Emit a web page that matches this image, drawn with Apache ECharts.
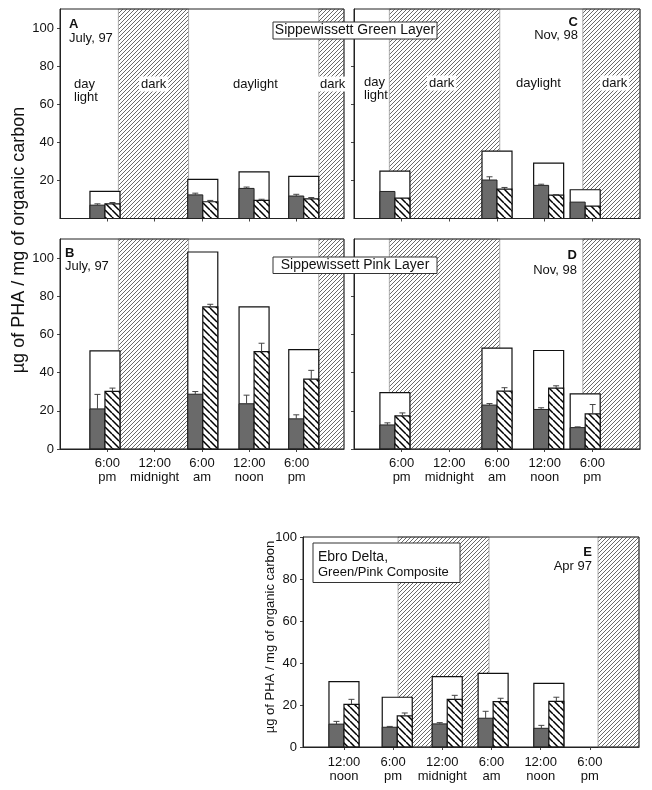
<!DOCTYPE html>
<html><head><meta charset="utf-8">
<script src="https://cdn.jsdelivr.net/npm/echarts@6.0.0/dist/echarts.min.js"></script>
<style>html,body{margin:0;padding:0;background:#fff}#c{width:652px;height:790px}</style>
</head><body><div id="c"></div>
<script>
// ---------------- data (hours after 12:00 noon of day 1) ----------------
const timesAB = [5.7, 18.1, 24.6, 30.9];
const totalA = [14.2, 20.5, 24.5, 22.1];
const grayA = [7.0, 12.4, 15.8, 11.8];
const grayErrA = [7.7, 13.3, 16.5, 12.7];
const hatchA = [7.7, 8.8, 9.5, 10.3];
const hatchErrA = [8.4, 9.5, 10.1, 11.0];

const totalB = [51.4, 103.2, 74.4, 52.1];
const grayB = [21.0, 28.7, 23.7, 15.8];
const grayErrB = [28.6, 30.1, 28.2, 17.9];
const hatchB = [30.2, 74.4, 51.0, 36.6];
const hatchErrB = [31.9, 75.8, 55.4, 41.2];

const timesCD = [5.15, 18.0, 24.5, 29.1];
const totalC = [24.9, 35.4, 29.1, 15.1];
const grayC = [14.2, 20.2, 17.4, 8.6];
const grayErrC = [14.2, 21.9, 18.0, 8.6];
const hatchC = [10.7, 15.4, 12.3, 6.5];
const hatchErrC = [10.7, 16.3, 12.6, 6.5];

const totalD = [29.5, 52.8, 51.6, 28.9];
const grayD = [12.6, 23.0, 20.7, 11.2];
const grayErrD = [13.7, 23.8, 21.6, 11.6];
const hatchD = [17.4, 30.3, 31.9, 18.4];
const hatchErrD = [18.9, 32.1, 33.1, 23.3];

const timesE = [0, 6.5, 12.6, 18.2, 25.0];
const totalE = [31.1, 23.7, 33.5, 35.1, 30.3];
const grayE = [10.9, 9.4, 11.0, 13.7, 8.9];
const grayErrE = [12.2, 9.8, 11.6, 17.0, 10.3];
const hatchE = [20.3, 14.8, 22.7, 21.6, 21.7];
const hatchErrE = [22.7, 16.2, 24.6, 23.2, 23.7];

const bandsAB = [[7.4, 16.3], [32.8, 36]];
const bandsCD = [[4.45, 18.35], [28.8, 36]];
const bandsE = [[6.6, 17.7], [31.0, 36]];

const tickHours = [6, 12, 18, 24, 30];
const tickLabels = ['6:00\npm', '12:00\nmidnight', '6:00\nam', '12:00\nnoon', '6:00\npm'];
const tickHoursE = [0, 6, 12, 18, 24, 30];
const tickLabelsE = ['12:00\nnoon', '6:00\npm', '12:00\nmidnight', '6:00\nam', '12:00\nnoon', '6:00\npm'];
const yTicks = [20, 40, 60, 80, 100];
const yTicksB = [0, 20, 40, 60, 80, 100];
const yTitle = 'µg of PHA / mg of organic carbon';

// ---------------- styling helpers ----------------
const FONT = "'Liberation Sans', Arial, sans-serif";
function makePattern(size, color, lw, dir) {
  const c = document.createElement('canvas'); c.width = size; c.height = size;
  const g = c.getContext('2d'); g.fillStyle = '#fff'; g.fillRect(0, 0, size, size);
  g.strokeStyle = color; g.lineWidth = lw; g.beginPath();
  for (let k = -1; k <= 1; k++) {
    if (dir === '/') { g.moveTo(k * size, size); g.lineTo(k * size + size, 0); }
    else { g.moveTo(k * size, 0); g.lineTo(k * size + size, size); }
  }
  g.stroke(); return c;
}
const bandPat = makePattern(4, '#6a6a6a', 1, '/');
const barPat = makePattern(7, '#000', 1.5, '\\');
const H = 15;

function rows(t, tot, g, ge, h, he) { return t.map((x, i) => [x, tot[i], g[i], ge[i], h[i], he[i]]); }

function bandSeries(idx, bands) {
  return {
    type: 'custom', xAxisIndex: idx, yAxisIndex: idx, z: 1,
    data: bands,
    renderItem: (params, api) => {
      const cs = params.coordSys;
      const p0 = api.coord([api.value(0), 0]);
      const p1 = api.coord([api.value(1), 0]);
      return { type: 'rect', shape: { x: p0[0], y: cs.y, width: p1[0] - p0[0], height: cs.height },
        style: { fill: { image: bandPat, repeat: 'repeat' }, stroke: '#9a9a9a', lineWidth: 0.8 } };
    }
  };
}
function barSeries(idx, data) {
  return {
    type: 'custom', xAxisIndex: idx, yAxisIndex: idx, z: 3,
    data: data,
    renderItem: (params, api) => {
      const x = api.value(0);
      const base = api.coord([x, 0]);
      const cx = base[0], y0 = base[1];
      const yy = v => api.coord([x, v])[1];
      const yt = yy(api.value(1)), yg = yy(api.value(2)), yge = yy(api.value(3));
      const yh = yy(api.value(4)), yhe = yy(api.value(5));
      const ch = [
        { type: 'rect', shape: { x: cx - H, y: yt, width: 2 * H, height: y0 - yt }, style: { fill: '#fff', stroke: '#111', lineWidth: 1.2 } },
        { type: 'rect', shape: { x: cx - H, y: yg, width: H, height: y0 - yg }, style: { fill: '#6a6a6a', stroke: '#222', lineWidth: 1 } },
        { type: 'rect', shape: { x: cx, y: yh, width: H, height: y0 - yh }, style: { fill: { image: barPat, repeat: 'repeat' }, stroke: '#111', lineWidth: 1.2 } }
      ];
      const err = (ex, ya, yb) => {
        if (yb < ya - 0.5) {
          ch.push({ type: 'line', shape: { x1: ex, y1: ya, x2: ex, y2: yb }, style: { stroke: '#444', lineWidth: 1 } });
          ch.push({ type: 'line', shape: { x1: ex - 3, y1: yb, x2: ex + 3, y2: yb }, style: { stroke: '#444', lineWidth: 1 } });
        }
      };
      err(cx - H / 2, yg, yge);
      err(cx + H / 2, yh, yhe);
      return { type: 'group', children: ch };
    }
  };
}

const grids = [
  { left: 60, top: 9, width: 284, height: 209.5 },
  { left: 60, top: 239, width: 284, height: 210 },
  { left: 354, top: 9, width: 286, height: 209.5 },
  { left: 354, top: 239, width: 286, height: 210 },
  { left: 303, top: 537, width: 336, height: 210 }
].map(g => Object.assign(g, { show: true, borderColor: '#222', borderWidth: 1, backgroundColor: 'transparent', z: 10 }));

function xAx(idx, min, max, ticks, labels, showLabels, margin) {
  return {
    type: 'value', gridIndex: idx, min: min, max: max,
    axisLine: { show: true, onZero: false, lineStyle: { color: '#222', width: 1 } },
    axisTick: { show: true, inside: false, length: 3, customValues: ticks, lineStyle: { color: '#444' } },
    axisLabel: { show: showLabels, customValues: ticks, margin: margin, color: '#111', fontSize: 13, lineHeight: 14, fontFamily: FONT,
      formatter: v => { const i = ticks.indexOf(v); return i >= 0 ? labels[i] : ''; } },
    splitLine: { show: false }
  };
}
function yAx(idx, max, ticks, showLabels) {
  return {
    type: 'value', gridIndex: idx, min: 0, max: max,
    axisLine: { show: true, onZero: false, lineStyle: { color: '#222', width: 1 } },
    axisTick: { show: true, inside: false, length: 3, customValues: ticks, lineStyle: { color: '#444' } },
    axisLabel: { show: showLabels, customValues: ticks, margin: 6, color: '#111', fontSize: 13, fontFamily: FONT },
    splitLine: { show: false }
  };
}

const txt = (x, y, text, opt) => Object.assign({ type: 'text', x: x, y: y, z: 100,
  style: Object.assign({ text: text, font: '13px ' + FONT, fill: '#111', align: 'left', verticalAlign: 'middle' }, opt || {}) });
const darkBg = { backgroundColor: '#fff', padding: [1, 2] };

const option = {
  animation: false,
  grid: grids,
  xAxis: [
    xAx(0, 0, 36, tickHours, tickLabels, false, 7),
    xAx(1, 0, 36, tickHours, tickLabels, true, 7),
    xAx(2, 0, 36, tickHours, tickLabels, false, 7),
    xAx(3, 0, 36, tickHours, tickLabels, true, 7),
    xAx(4, -5, 36, tickHoursE, tickLabelsE, true, 8)
  ],
  yAxis: [
    yAx(0, 110, yTicks, true),
    yAx(1, 110, yTicksB, true),
    yAx(2, 110, yTicks, false),
    yAx(3, 110, yTicksB, false),
    yAx(4, 100, yTicksB, true)
  ],
  series: [
    bandSeries(0, bandsAB), bandSeries(1, bandsAB), bandSeries(2, bandsCD), bandSeries(3, bandsCD), bandSeries(4, bandsE),
    barSeries(0, rows(timesAB, totalA, grayA, grayErrA, hatchA, hatchErrA)),
    barSeries(1, rows(timesAB, totalB, grayB, grayErrB, hatchB, hatchErrB)),
    barSeries(2, rows(timesCD, totalC, grayC, grayErrC, hatchC, hatchErrC)),
    barSeries(3, rows(timesCD, totalD, grayD, grayErrD, hatchD, hatchErrD)),
    barSeries(4, rows(timesE, totalE, grayE, grayErrE, hatchE, hatchErrE))
  ],
  graphic: [
    txt(19, 240, yTitle, { font: '18px ' + FONT, align: 'center' }),
    txt(270, 637, yTitle, { font: '13px ' + FONT, align: 'center' }),
    // panel A
    txt(69, 24, 'A', { font: 'bold 13px ' + FONT }),
    txt(69, 38, 'July, 97'),
    txt(74, 91, 'day\nlight', { lineHeight: 13 }),
    txt(139, 84, 'dark', darkBg),
    txt(233, 84, 'daylight'),
    txt(318, 84, 'dark', darkBg),
    // panel C
    txt(578, 22, 'C', { font: 'bold 13px ' + FONT, align: 'right' }),
    txt(578, 35, 'Nov, 98', { align: 'right' }),
    txt(364, 89, 'day\nlight', { lineHeight: 13 }),
    txt(427, 83, 'dark', darkBg),
    txt(516, 83, 'daylight'),
    txt(600, 83, 'dark', darkBg),
    // panel B / D
    txt(65, 253, 'B', { font: 'bold 13px ' + FONT }),
    txt(65, 266, 'July, 97'),
    txt(577, 255, 'D', { font: 'bold 13px ' + FONT, align: 'right' }),
    txt(577, 270, 'Nov, 98', { align: 'right' }),
    // title boxes
    { type: 'rect', z: 100, shape: { x: 273, y: 22, width: 164, height: 17 }, style: { fill: '#fff', stroke: '#333', lineWidth: 1 } },
    txt(355, 30.5, 'Sippewissett Green Layer', { font: '14px ' + FONT, align: 'center' }),
    { type: 'rect', z: 100, shape: { x: 273, y: 257, width: 164, height: 16.5 }, style: { fill: '#fff', stroke: '#333', lineWidth: 1 } },
    txt(355, 265, 'Sippewissett Pink Layer', { font: '14px ' + FONT, align: 'center' }),
    // panel E
    { type: 'rect', z: 100, shape: { x: 313, y: 543, width: 147, height: 39.5 }, style: { fill: '#fff', stroke: '#333', lineWidth: 1 } },
    txt(318, 557, 'Ebro Delta,', { font: '14px ' + FONT }),
    txt(318, 572, 'Green/Pink Composite'),
    txt(592, 552, 'E', { font: 'bold 13px ' + FONT, align: 'right' }),
    txt(592, 566, 'Apr 97', { align: 'right' })
  ]
};
// rotate the y-axis titles
option.graphic[0].rotation = Math.PI / 2;
option.graphic[1].rotation = Math.PI / 2;

const chart = echarts.init(document.getElementById('c'), null, { renderer: 'canvas' });
chart.setOption(option);
</script></body></html>
